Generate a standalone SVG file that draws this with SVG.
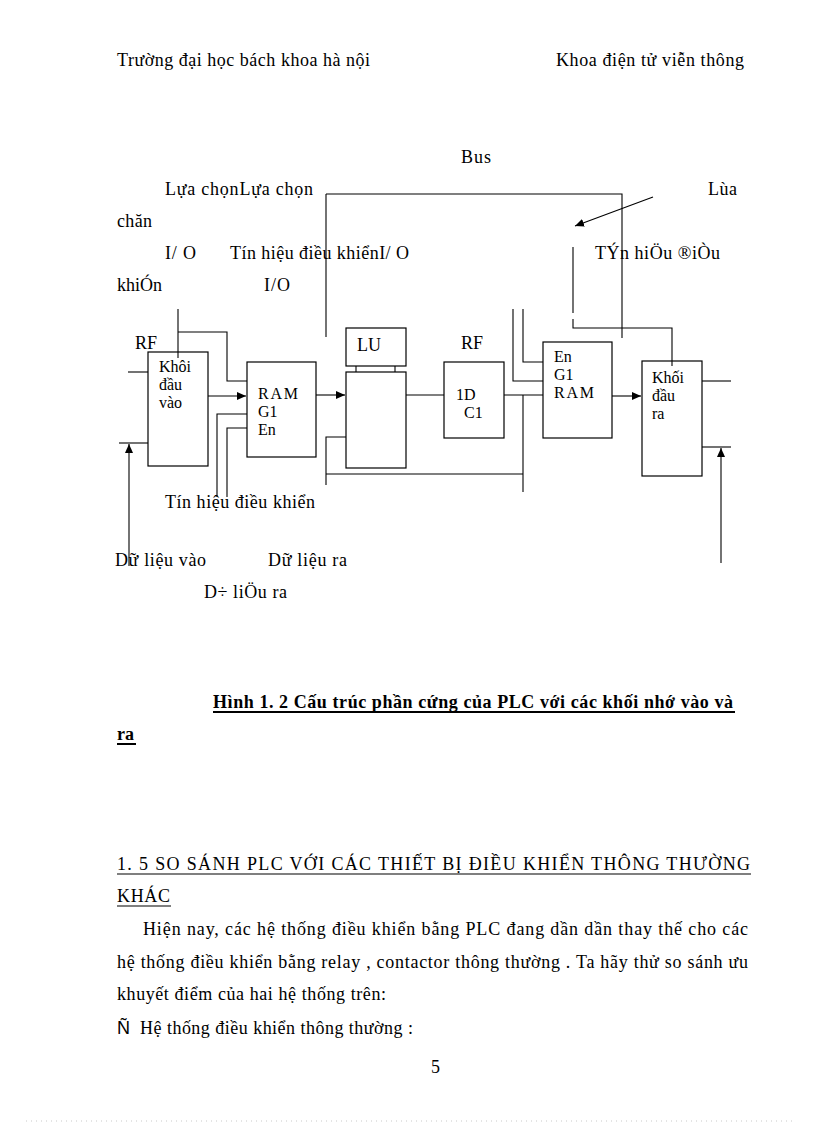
<svg xmlns="http://www.w3.org/2000/svg" width="816" height="1123" viewBox="0 0 816 1123">
<defs>
<marker id="ah" markerUnits="userSpaceOnUse" markerWidth="10" markerHeight="8" refX="9" refY="4" orient="auto">
<path d="M0,0 L9,4 L0,8 Z" fill="#000"/>
</marker>
<style>
text{font-family:"Liberation Serif","Times New Roman",serif;font-size:18px;fill:#000}
.bx{font-size:16px}
.b{font-weight:bold}
.box{fill:none;stroke:#000;stroke-width:1.2}
.ln{fill:none;stroke:#000;stroke-width:1.1}
.ar{fill:none;stroke:#000;stroke-width:1.1;marker-end:url(#ah)}
.ul{stroke:#000;stroke-width:1.2}
.ulb{stroke:#000;stroke-width:2}
</style>
</defs>
<rect width="816" height="1123" fill="#fff"/>

<g id="header">
<text x="117" y="66" textLength="253" lengthAdjust="spacing">Trường đại học bách khoa hà nội</text>
<text x="556" y="66" textLength="188" lengthAdjust="spacing">Khoa điện tử viễn thông</text>
</g>

<g id="labels">
<text x="461" y="163" textLength="30" lengthAdjust="spacing">Bus</text>
<text x="165" y="195" textLength="148" lengthAdjust="spacing">Lựa  chọnLựa chọn</text>
<text x="708" y="195" textLength="29" lengthAdjust="spacing">Lùa</text>
<text x="117" y="227" textLength="35" lengthAdjust="spacing">chăn</text>
<text x="165" y="259" textLength="31" lengthAdjust="spacing">I/ O</text>
<text x="230" y="259" textLength="179" lengthAdjust="spacing">Tín hiệu  điều khiểnI/  O</text>
<text x="595" y="259" textLength="125" lengthAdjust="spacing">TÝn hiÖu ®iÒu</text>
<text x="117" y="291" textLength="45" lengthAdjust="spacing">khiÓn</text>
<text x="264" y="291" textLength="26" lengthAdjust="spacing">I/O</text>
<text x="135" y="349">RF</text>
<text x="461" y="349">RF</text>
<text x="165" y="508" textLength="150" lengthAdjust="spacing">Tín hiệu  điều khiển</text>
<text x="115" y="566" textLength="91" lengthAdjust="spacing">Dữ liệu  vào</text>
<text x="268" y="566" textLength="79" lengthAdjust="spacing">Dữ liệu  ra</text>
<text x="204" y="598" textLength="83" lengthAdjust="spacing">D÷ liÖu ra</text>
</g>

<g id="node-input">
<rect class="box" x="148" y="352" width="60" height="114"/>
<text class="bx" x="159" y="372">Khôi</text>
<text class="bx" x="159" y="390">đầu</text>
<text class="bx" x="159" y="408">vào</text>
</g>

<g id="node-ram1">
<rect class="box" x="247" y="362" width="69" height="95"/>
<text class="bx" x="258" y="399" textLength="40" lengthAdjust="spacing">RAM</text>
<text class="bx" x="258" y="417">G1</text>
<text class="bx" x="258" y="435">En</text>
</g>

<g id="node-lu">
<rect class="box" x="346" y="328" width="60" height="38"/>
<text x="357" y="351">LU</text>
</g>

<g id="node-alu">
<rect class="box" x="346" y="372" width="60" height="96"/>
</g>

<g id="node-rf">
<rect class="box" x="444" y="362" width="60" height="76"/>
<text class="bx" x="456" y="400">1D</text>
<text class="bx" x="464" y="418">C1</text>
</g>

<g id="node-ram2">
<rect class="box" x="543" y="342" width="69" height="96"/>
<text class="bx" x="554" y="362">En</text>
<text class="bx" x="554" y="380">G1</text>
<text class="bx" x="554" y="398" textLength="40" lengthAdjust="spacing">RAM</text>
</g>

<g id="node-output">
<rect class="box" x="642" y="361" width="60" height="115"/>
<text class="bx" x="652" y="383">Khối</text>
<text class="bx" x="652" y="401">đầu</text>
<text class="bx" x="652" y="419">ra</text>
</g>

<g id="connectors">
<line class="ln" x1="128" y1="372" x2="148" y2="372"/>
<line class="ln" x1="119" y1="443" x2="148" y2="443"/>
<line class="ar" x1="129" y1="566" x2="129" y2="444"/>
<polyline class="ln" points="178,309 178,358"/>
<polyline class="ln" points="178,332 227,332 227,381 247,381"/>
<line class="ar" x1="208" y1="396" x2="246" y2="396"/>
<polyline class="ln" points="217,497 217,414 247,414"/>
<polyline class="ln" points="227,497 227,428 247,428"/>
<line class="ar" x1="316" y1="395" x2="345" y2="395"/>
<line class="ln" x1="356" y1="366" x2="356" y2="372"/>
<line class="ln" x1="395" y1="366" x2="395" y2="372"/>
<line class="ln" x1="406" y1="395" x2="444" y2="395"/>
<polyline class="ln" points="326,194 622,194 622,338"/>
<line class="ln" x1="326" y1="194" x2="326" y2="337"/>
<polyline class="ln" points="346,437 326,437 326,485"/>
<line class="ln" x1="326" y1="474" x2="523" y2="474"/>
<line class="ln" x1="504" y1="395" x2="543" y2="395"/>
<line class="ln" x1="523" y1="395" x2="523" y2="492"/>
<polyline class="ln" points="513,309 513,381 543,381"/>
<polyline class="ln" points="523,309 523,362 543,362"/>
<line class="ar" x1="612" y1="396" x2="641" y2="396"/>
<line class="ln" x1="573" y1="247" x2="573" y2="313"/>
<polyline class="ln" points="573,319 573,328 672,328 672,366"/>
<line class="ar" x1="653" y1="197" x2="575" y2="226"/>
<line class="ln" x1="702" y1="381" x2="731" y2="381"/>
<line class="ln" x1="702" y1="447" x2="731" y2="447"/>
<line class="ar" x1="721" y1="563" x2="721" y2="448"/>
</g>

<g id="caption">
<text class="b" x="213" y="708" textLength="520" lengthAdjust="spacing">Hình  1. 2 Cấu trúc phần cứng của PLC với các khối nhớ vào và</text>
<line class="ulb" x1="213" y1="712" x2="735" y2="712"/>
<text class="b" x="117" y="740">ra</text>
<line class="ulb" x1="117" y1="744" x2="136" y2="744"/>
</g>

<g id="body">
<text x="117" y="870" textLength="633" lengthAdjust="spacing">1. 5 SO SÁNH PLC VỚI CÁC THIẾT BỊ ĐIỀU KHIỂN THÔNG THƯỜNG</text>
<line class="ul" x1="117" y1="874" x2="751" y2="874"/>
<text x="117" y="902" textLength="53" lengthAdjust="spacing">KHÁC</text>
<line class="ul" x1="117" y1="906" x2="171" y2="906"/>
<text x="143" y="935" textLength="605" lengthAdjust="spacing">Hiện  nay, các hệ thống điều khiển bằng PLC đang dần dần thay thế cho các</text>
<text x="117" y="968" textLength="631" lengthAdjust="spacing">hệ thống điều khiển bằng relay , contactor thông thường . Ta hãy thử so sánh ưu</text>
<text x="117" y="1000" textLength="269" lengthAdjust="spacing">khuyết  điểm của hai hệ thống trên:</text>
<text x="117" y="1034" style="font-family:'Liberation Sans',Arial,sans-serif">Ñ</text>
<text x="140" y="1034" textLength="273" lengthAdjust="spacing">Hệ thống điều khiển thông thường :</text>
<text x="431" y="1073">5</text>
</g>
<line x1="26" y1="1121" x2="792" y2="1121" stroke="#bbb" stroke-width="0.8" stroke-dasharray="1,4"/>
</svg>
